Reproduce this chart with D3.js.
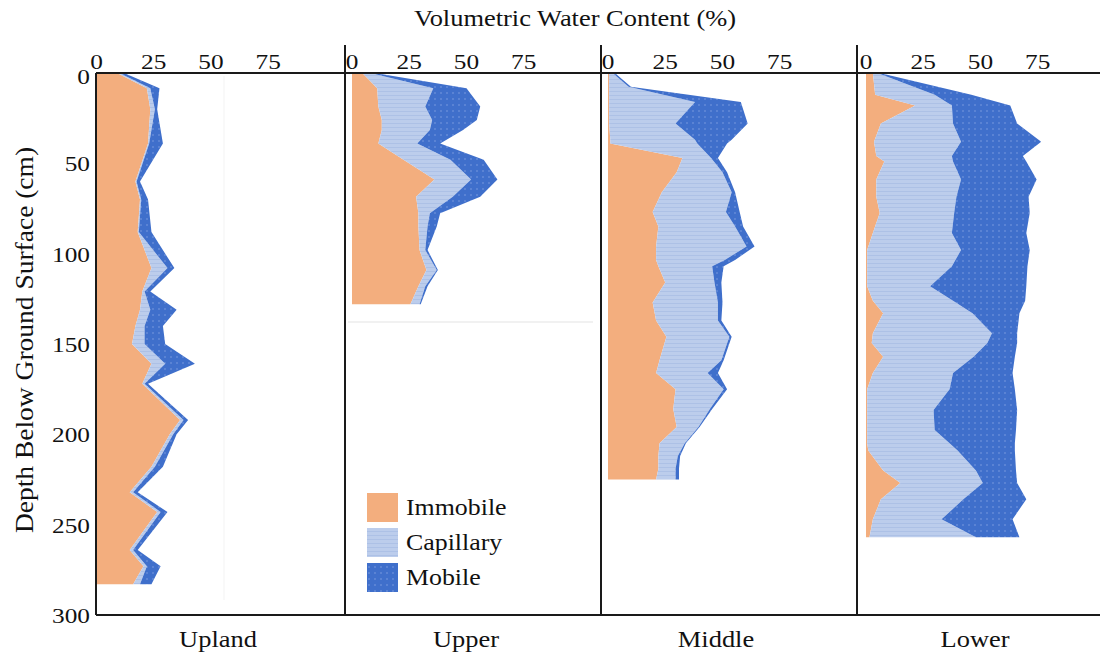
<!DOCTYPE html>
<html>
<head>
<meta charset="utf-8">
<script src="https://cdn.jsdelivr.net/npm/d3@7"></script>
<style>
  html, body { margin: 0; padding: 0; background: #fff; }
  svg text { font-family: "Liberation Serif", "Times New Roman", serif; fill: #111; }
</style>
</head>
<body>
<svg id="chart" width="1100" height="656"></svg>
<script>
// Water content partition (%) by depth (cm) at four hillslope positions
const sites = ["Upland", "Upper", "Middle", "Lower"];
const components = ["Immobile", "Capillary", "Mobile"];
const xTicks = [0, 25, 50, 75];
const yTicks = [0, 50, 100, 150, 200, 250, 300];

const uplandDepth     = [0, 8.5, 20, 39, 60, 70, 88, 108, 121, 131, 140, 150, 161, 172, 192, 200, 218, 232, 243, 264, 273, 283];
const uplandImmobile  = [9, 22, 23.5, 22.5, 17, 19, 18, 24, 20, 19, 17, 15.5, 24, 20, 36.5, 32, 24, 14.5, 26.5, 14.5, 20.5, 16];
const uplandCapillary = [1, 1.5, 2, 0.5, 0.5, 0.5, 0.5, 7, 1, 4.5, 4, 5.5, 6, 1, 1.5, 1.5, 1.5, 1.5, 1.5, 1.5, 1.5, 3];
const uplandMobile    = [2, 4, 1, 6, 1.5, 3, 5.5, 3, 2.5, 11.5, 8, 9, 13, 1.5, 2, 1.5, 3.5, 2, 3, 2, 6, 5];

const upperDepth     = [0, 8.5, 18.6, 26, 31.5, 39, 48, 59, 68.5, 77.6, 85, 98, 109, 118, 128];
const upperImmobile  = [4.5, 11, 11.5, 13, 13, 11.5, 22.5, 36, 28, 29, 29, 29.5, 32.5, 29, 25.5];
const upperCapillary = [3.5, 24.5, 20.5, 22, 21, 17, 20.5, 16, 16, 5, 4, 2.5, 4.5, 3, 4];
const upperMobile    = [2, 14.5, 24, 19.5, 14.5, 10, 14.5, 11.5, 12, 4.5, 4, 1, 0.5, 1, 0.5];

const middleDepth     = [0, 7.6, 16, 28, 37, 39, 47, 55, 66, 77, 85, 96, 103.5, 107, 116, 127, 137, 146, 159, 166, 175, 186, 196, 205, 212, 219, 225];
const middleImmobile  = [0.5, 0.5, 0.5, 0.5, 1, 1, 32.5, 30, 23.5, 19.5, 22, 21, 21, 22, 25, 19.5, 21, 25.5, 22.5, 21, 29.5, 28.5, 30, 22.5, 22, 22, 21];
const middleCapillary = [1.5, 8.5, 37.5, 29, 37, 38, 12.5, 20, 30.5, 32, 33.5, 39.5, 30, 23.5, 21.5, 28.5, 27, 27.5, 27, 22.5, 21, 16, 9.5, 11, 8.5, 7.5, 8.5];
const middleMobile    = [1, 1, 20, 31.5, 16, 13, 3, 2, 1.5, 6, 3.5, 3.5, 4.5, 5, 3, 2, 1.5, 1, 1, 4.5, 1.5, 1, 0.5, 0.5, 1, 1.5, 1.5];

const lowerDepth     = [0, 12, 18, 28, 38, 46, 49, 59, 68.5, 77.5, 88.5, 98, 107, 118, 126, 133, 144, 149.5, 157, 166, 175, 186.5, 197.6, 205, 209, 220, 227, 236, 247, 257];
const lowerImmobile  = [3, 4, 21.5, 6.5, 3.5, 4.5, 8, 4.5, 4.5, 6, 3, 0.5, 0.5, 0.5, 3, 7.5, 3, 2.5, 7.5, 3, 0.5, 0.5, 0.5, 0.5, 1, 7.5, 15, 6.5, 3, 1.5];
const lowerCapillary = [2, 26, 16, 31.5, 38, 33, 30, 37, 35, 32.5, 34.5, 41, 37, 27.5, 35, 39, 52, 50.5, 39.5, 35, 36, 29, 29.5, 36, 39, 40.5, 36, 36, 30, 46.5];
const lowerMobile    = [1, 16, 25.5, 28, 35, 31, 32, 33, 31.5, 33, 32.5, 30, 33, 42, 31.5, 20.5, 11, 13, 18, 26, 28.5, 36.5, 35.5, 28.5, 25, 17.5, 15, 27.5, 31, 19];

const siteSeries = [
  { depth: uplandDepth, values: [uplandImmobile, uplandCapillary, uplandMobile] },
  { depth: upperDepth,  values: [upperImmobile,  upperCapillary,  upperMobile] },
  { depth: middleDepth, values: [middleImmobile, middleCapillary, middleMobile] },
  { depth: lowerDepth,  values: [lowerImmobile,  lowerCapillary,  lowerMobile] }
];

// ---- layout ----
const svg = d3.select("#chart");
const plotTop = 73, plotBottom = 615, plotLeft = 96, plotRight = 1100;
const dividers = [345, 601, 857];
const origins = [96.5, 352, 608, 866];
const pxPerPct = 2.29;
const sx = 1.15;               // horizontal glyph stretch used for all labels

const y = d3.scaleLinear().domain([0, 300]).range([plotTop, plotBottom]);

// ---- fills ----
const defs = svg.append("defs");
const capPat = defs.append("pattern").attr("id", "capPat")
  .attr("patternUnits", "userSpaceOnUse").attr("width", 6).attr("height", 4);
capPat.append("rect").attr("width", 6).attr("height", 4).attr("fill", "#bccdec");
capPat.append("rect").attr("y", 3).attr("width", 6).attr("height", 1).attr("fill", "#adc1e6");

const mobPat = defs.append("pattern").attr("id", "mobPat")
  .attr("patternUnits", "userSpaceOnUse").attr("width", 6).attr("height", 6);
mobPat.append("rect").attr("width", 6).attr("height", 6).attr("fill", "#3f6fcb");
mobPat.append("circle").attr("cx", 3).attr("cy", 3).attr("r", 0.8).attr("fill", "#7b9de0");

const fills = { Immobile: "#f3ae7e", Capillary: "url(#capPat)", Mobile: "url(#mobPat)" };

// faint plot-frame remnants
svg.append("line").attr("x1", 224).attr("x2", 224).attr("y1", 76).attr("y2", 600)
  .attr("stroke", "#f3f3f3").attr("stroke-width", 1);
svg.append("line").attr("x1", 348).attr("x2", 593).attr("y1", 322).attr("y2", 322)
  .attr("stroke", "#ececec").attr("stroke-width", 1.5);

// ---- stacked depth profiles ----
siteSeries.forEach((s, i) => {
  const x = d3.scaleLinear().domain([0, 75]).range([origins[i], origins[i] + 75 * pxPerPct]);
  const rows = s.depth.map((d, j) => {
    const r = { depth: d };
    components.forEach((c, k) => r[c] = s.values[k][j]);
    return r;
  });
  const stacked = d3.stack().keys(components)(rows);
  const area = d3.area()
    .y(d => y(d.data.depth))
    .x0(d => x(d[0]))
    .x1(d => x(d[1]));
  const g = svg.append("g");
  g.selectAll("path").data(stacked).join("path")
    .attr("d", area)
    .attr("fill", d => fills[d.key]);

  // top value axis labels
  svg.append("g").selectAll("text").data(xTicks).join("text")
    .attr("transform", v => `translate(${x(v)},${69}) scale(${sx},1)`)
    .attr("text-anchor", "middle")
    .attr("font-size", 22)
    .text(v => v);

  // site name
  const cx = [218, 466, 716, 975][i];
  svg.append("text")
    .attr("transform", `translate(${cx},${647}) scale(${sx},1)`)
    .attr("text-anchor", "middle")
    .attr("font-size", 23)
    .text(sites[i]);
});

// ---- frame lines ----
const frame = svg.append("g").attr("stroke", "#1a1a1a").attr("stroke-width", 2);
frame.append("line").attr("x1", plotLeft).attr("x2", plotRight).attr("y1", plotTop).attr("y2", plotTop);
frame.append("line").attr("x1", plotLeft).attr("x2", plotRight).attr("y1", plotBottom).attr("y2", plotBottom);
frame.append("line").attr("x1", plotLeft).attr("x2", plotLeft).attr("y1", plotTop).attr("y2", plotBottom);
dividers.forEach(dx => frame.append("line").attr("x1", dx).attr("x2", dx).attr("y1", 45).attr("y2", plotBottom));

// ---- depth axis labels ----
svg.append("g").selectAll("text").data(yTicks).join("text")
  .attr("transform", v => `translate(${90},${y(v) + (v === 0 ? 11 : 8)}) scale(${sx},1)`)
  .attr("text-anchor", "end")
  .attr("font-size", 22)
  .text(v => v);

// ---- titles ----
svg.append("text")
  .attr("transform", `translate(575,26) scale(${sx},1)`)
  .attr("text-anchor", "middle")
  .attr("font-size", 23)
  .text("Volumetric Water Content (%)");

svg.append("text")
  .attr("transform", `translate(33,340) rotate(-90) scale(1.1,1)`)
  .attr("text-anchor", "middle")
  .attr("font-size", 25)
  .text("Depth Below Ground Surface (cm)");

// ---- legend ----
const legend = svg.append("g");
components.forEach((c, k) => {
  const ly = 493 + k * 35;
  legend.append("rect").attr("x", 367).attr("y", ly).attr("width", 31).attr("height", 29)
    .attr("fill", fills[c]);
  legend.append("text")
    .attr("transform", `translate(406,${ly + 22}) scale(${sx},1)`)
    .attr("font-size", 22.5)
    .text(c);
});
</script>
</body>
</html>
